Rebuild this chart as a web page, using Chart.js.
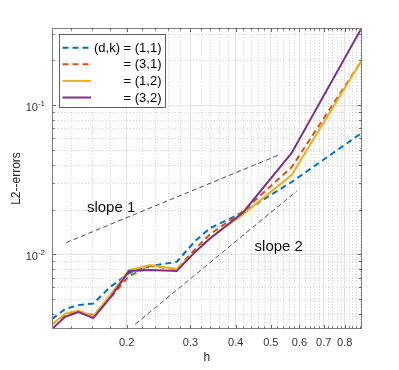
<!DOCTYPE html>
<html>
<head>
<meta charset="utf-8">
<script src="https://cdn.jsdelivr.net/npm/chart.js@4"></script>
<style>
  html, body { margin: 0; padding: 0; background: #fff; }
</style>
</head>
<body>
<canvas id="errChart" width="399" height="370"></canvas>
<script>
// mesh sizes h (x axis)
const hValues = [0.1243, 0.1351, 0.147, 0.1617, 0.1798, 0.2029, 0.232, 0.2748, 0.309, 0.3398, 0.4197, 0.571, 0.891];

// L2 errors per (d,k)
const err11 = [0.00368, 0.0043, 0.00457, 0.00469, 0.00603, 0.00749, 0.00835, 0.00892, 0.0123, 0.0150, 0.0192, 0.0306, 0.0652];
const err31 = [0.0034, 0.00394, 0.00413, 0.00392, 0.00509, 0.00715, 0.00835, 0.00797, 0.01085, 0.01368, 0.0195, 0.0385, 0.199];
const err12 = [0.00338, 0.004, 0.0042, 0.00385, 0.00533, 0.00785, 0.00848, 0.00797, 0.01036, 0.0129, 0.01864, 0.0341, 0.2];
const err32 = [0.00316, 0.00381, 0.0041, 0.00374, 0.0051, 0.00773, 0.00785, 0.00773, 0.0104, 0.0128, 0.0192, 0.0479, 0.33];

// reference slope lines
const slope1H = [0.136, 0.5245];
const slope1E = [0.012, 0.0463];
const slope2H = [0.211, 0.59];
const slope2E = [0.0034, 0.0266];

const xTicks = [0.2, 0.3, 0.4, 0.5, 0.6, 0.7, 0.8];
const yTicks = [0.01, 0.1];
const yTickExp = ['-2', '-1'];
const seriesLabels = ['(d,k) = (1,1)', '= (3,1)', '= (1,2)', '= (3,2)'];

const FONT = "'Liberation Sans', Arial, Helvetica, sans-serif";
const allErr = err11.concat(err31, err12, err32);

function pts(xs, ys) {
  return xs.map((x, i) => ({ x: x, y: ys[i] }));
}

function seg(ctx, x1, y1, x2, y2) {
  ctx.beginPath();
  ctx.moveTo(x1, y1);
  ctx.lineTo(x2, y2);
  ctx.stroke();
}

function xMinorValues() {
  const out = [];
  for (let i = 12; i <= 90; i += 2) {
    if (i % 10 !== 0) out.push(i / 100);
  }
  return out;
}

function yMinorValues() {
  const out = [];
  for (let k = -3; k <= 0; k++) {
    for (let m = 2; m <= 9; m++) out.push(m * Math.pow(10, k));
  }
  return out;
}

// matlab-like box, minor grid, inward ticks, legend and labels
const matlabAxes = {
  id: 'matlabAxes',
  beforeDatasetsDraw(chart) {
    const { ctx, chartArea: a, scales: { x, y } } = chart;
    ctx.save();
    ctx.beginPath();
    ctx.rect(a.left, a.top, a.right - a.left, a.bottom - a.top);
    ctx.clip();
    ctx.strokeStyle = '#d6d6d6';
    ctx.lineWidth = 1;
    ctx.setLineDash([1, 2]);
    xMinorValues().forEach(v => {
      const px = Math.round(x.getPixelForValue(v)) + 0.5;
      if (px > a.left + 1 && px < a.right - 1) seg(ctx, px, a.top, px, a.bottom);
    });
    yMinorValues().forEach(v => {
      const py = Math.round(y.getPixelForValue(v)) + 0.5;
      if (py > a.top + 1 && py < a.bottom - 1) seg(ctx, a.left, py, a.right, py);
    });
    ctx.restore();
  },
  afterDatasetsDraw(chart) {
    const { ctx, chartArea: a, scales: { x, y } } = chart;
    ctx.save();

    // box
    ctx.strokeStyle = '#808080';
    ctx.lineWidth = 1;
    ctx.strokeRect(Math.round(a.left) + 0.5, Math.round(a.top) + 0.5,
      Math.round(a.right - a.left) - 1, Math.round(a.bottom - a.top) - 1);

    // ticks, pointing inside on all four sides
    ctx.strokeStyle = '#666';
    const tickX = (v, len) => {
      const px = Math.round(x.getPixelForValue(v)) + 0.5;
      if (px <= a.left + 1 || px >= a.right - 1) return;
      seg(ctx, px, a.bottom, px, a.bottom - len);
      seg(ctx, px, a.top, px, a.top + len);
    };
    const tickY = (v, len) => {
      const py = Math.round(y.getPixelForValue(v)) + 0.5;
      if (py <= a.top + 1 || py >= a.bottom - 1) return;
      seg(ctx, a.left, py, a.left + len, py);
      seg(ctx, a.right, py, a.right - len, py);
    };
    xTicks.forEach(v => tickX(v, 4));
    xMinorValues().forEach(v => tickX(v, 2.5));
    yTicks.forEach(v => tickY(v, 4));
    yMinorValues().forEach(v => tickY(v, 2.5));

    // y tick labels 10^k
    ctx.fillStyle = '#333';
    ctx.textAlign = 'right';
    ctx.textBaseline = 'alphabetic';
    yTicks.forEach((v, i) => {
      const py = y.getPixelForValue(v);
      ctx.font = '8px ' + FONT;
      const supW = ctx.measureText(yTickExp[i]).width;
      ctx.fillText(yTickExp[i], a.left - 7, py + 0.5);
      ctx.font = '11px ' + FONT;
      ctx.fillText('10', a.left - 7 - supW, py + 5.5);
    });

    // axis titles
    ctx.fillStyle = '#262626';
    ctx.font = '12px ' + FONT;
    ctx.textAlign = 'center';
    ctx.textBaseline = 'middle';
    ctx.fillText('h', (a.left + a.right) / 2, 358);
    ctx.save();
    ctx.translate(16.5, (a.top + a.bottom) / 2);
    ctx.rotate(-Math.PI / 2);
    ctx.fillText('L2--errors', 0, 0);
    ctx.restore();

    // slope annotations
    ctx.fillStyle = '#111';
    ctx.font = '15px ' + FONT;
    ctx.fillText('slope 1', x.getPixelForValue(0.181), y.getPixelForValue(0.0206));
    ctx.fillText('slope 2', x.getPixelForValue(0.526), y.getPixelForValue(0.0113));

    // legend box
    const lx = a.left + 7.5, ly = a.top + 6.5, lw = 106, lh = 73;
    ctx.fillStyle = '#fff';
    ctx.fillRect(lx, ly, lw, lh);
    ctx.strokeStyle = '#3a3a3a';
    ctx.lineWidth = 0.8;
    ctx.strokeRect(lx, ly, lw, lh);
    ctx.font = '13px ' + FONT;
    ctx.textAlign = 'right';
    ctx.textBaseline = 'middle';
    chart.data.datasets.filter(d => d.inLegend).forEach((d, i) => {
      const ry = a.top + 19.7 + i * 16.6;
      ctx.strokeStyle = d.borderColor;
      ctx.lineWidth = d.borderWidth;
      ctx.setLineDash(d.borderDash || []);
      seg(ctx, lx + 3, ry, lx + 31.5, ry);
      ctx.setLineDash([]);
      ctx.fillStyle = '#000';
      ctx.fillText(d.label, lx + lw - 4, ry + 0.5);
    });
    ctx.restore();
  }
};

const lineBase = {
  pointRadius: 0,
  pointHoverRadius: 0,
  borderWidth: 2,
  tension: 0,
  fill: false
};

const ctx = document.getElementById('errChart').getContext('2d');
const errChart = new Chart(ctx, {
  type: 'line',
  data: {
    datasets: [
      Object.assign({}, lineBase, { label: seriesLabels[0], inLegend: true, data: pts(hValues, err11), borderColor: '#0072BD', borderDash: [6, 4], order: 4 }),
      Object.assign({}, lineBase, { label: seriesLabels[1], inLegend: true, data: pts(hValues, err31), borderColor: '#D95319', borderDash: [6, 4], order: 3 }),
      Object.assign({}, lineBase, { label: seriesLabels[2], inLegend: true, data: pts(hValues, err12), borderColor: '#EDB120', order: 2 }),
      Object.assign({}, lineBase, { label: seriesLabels[3], inLegend: true, data: pts(hValues, err32), borderColor: '#7E2F8E', order: 1 }),
      Object.assign({}, lineBase, { label: 'slope 1', data: pts(slope1H, slope1E), borderColor: '#222', borderWidth: 0.8, borderDash: [5, 3], order: 5 }),
      Object.assign({}, lineBase, { label: 'slope 2', data: pts(slope2H, slope2E), borderColor: '#222', borderWidth: 0.8, borderDash: [5, 3], order: 5 })
    ]
  },
  options: {
    responsive: false,
    animation: false,
    layout: { padding: { top: 28, right: 37.4, left: 0, bottom: 0 } },
    plugins: {
      legend: { display: false },
      tooltip: { enabled: false }
    },
    scales: {
      x: {
        type: 'logarithmic',
        min: hValues[0],
        max: hValues[hValues.length - 1],
        afterBuildTicks: s => { s.ticks = xTicks.map(v => ({ value: v })); },
        afterFit: s => { s.height = 41; },
        border: { display: false },
        grid: { color: '#e3e3e3', drawTicks: false },
        ticks: {
          autoSkip: false,
          maxRotation: 0,
          padding: 7,
          color: '#333',
          font: { family: FONT, size: 11 },
          callback: v => String(v)
        }
      },
      y: {
        type: 'logarithmic',
        min: Math.min(...allErr),
        max: Math.max(...allErr),
        afterBuildTicks: s => { s.ticks = yTicks.map(v => ({ value: v })); },
        afterFit: s => { s.width = 52; },
        border: { display: false },
        grid: { color: '#e3e3e3', drawTicks: false },
        ticks: { display: false }
      }
    }
  },
  plugins: [matlabAxes]
});
</script>
</body>
</html>
